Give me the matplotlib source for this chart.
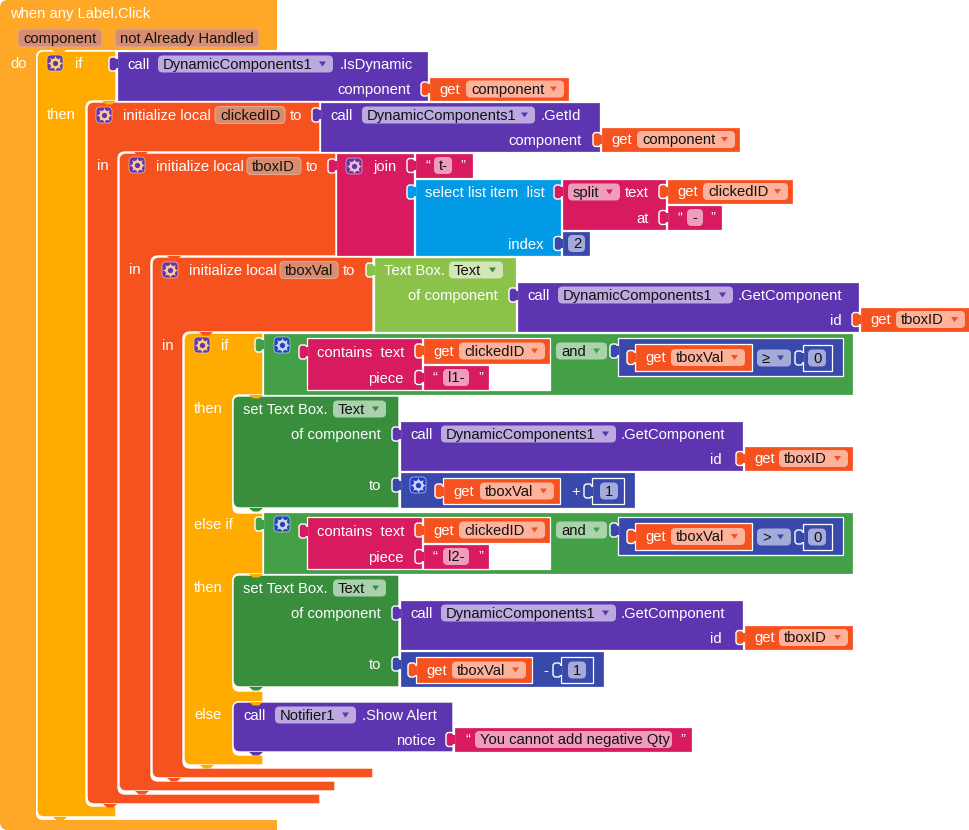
import matplotlib
matplotlib.use("Agg")
import matplotlib.pyplot as plt
from matplotlib.patches import FancyBboxPatch, PathPatch, Rectangle, Polygon
from matplotlib.path import Path
import numpy as np

plt.rcParams['font.family'] = ['Liberation Sans', 'DejaVu Sans']

# ---- block texts ----
EVENT_TITLE = "when any Label.Click"
EVENT_ARGS = ["component", "not Already Handled"]
COMPONENT_DYNAMIC = "DynamicComponents1"
COMPONENT_NOTIFIER = "Notifier1"
VAR_CLICKED = "clickedID"
VAR_TBOXID = "tboxID"
VAR_TBOXVAL = "tboxVal"
VAR_COMPONENT = "component"
ALERT_TEXT = "You cannot add negative Qty"
STRINGS = ["t-", "-", "l1-", "l2-"]
NUMBERS = ["2", "0", "1"]

# ---- palette ----
EVENT = "#FFA726"; CTRL = "#FFAB00"; ORANGE = "#F6521F"; PURPLE = "#5E35B1"
PINK = "#D81B60"; BLUE = "#039BE5"; MATH = "#3949AB"; LIME = "#8BC34A"
GREEN = "#43A047"; DGREEN = "#388E3C"
PILL = {ORANGE: "#FCB29B", PURPLE: "#BBA9DF", PINK: "#EF9DBA", MATH: "#A5ABD9",
        LIME: "#D2E6B8", GREEN: "#AAD3AC", DGREEN: "#ABD0AD", EVENT: "#D98D70"}

fig = plt.figure(figsize=(9.7, 8.3), dpi=100)
ax = fig.add_axes([0, 0, 1, 1])
ax.set_xlim(0, 970); ax.set_ylim(830, 0); ax.axis("off")
FS = 10.6


def rpoly(pts, color, radii=None, r=6, z=1, lw=1.0):
    n = len(pts)
    verts, codes = [], []
    for i in range(n):
        p = np.array(pts[i], float)
        a = np.array(pts[i - 1], float); b = np.array(pts[(i + 1) % n], float)
        rad = radii[i] if radii else r
        if rad <= 0:
            verts.append(p); codes.append(Path.LINETO if i else Path.MOVETO)
            continue
        u = (a - p) / np.linalg.norm(a - p); v = (b - p) / np.linalg.norm(b - p)
        verts.append(p + u * rad); codes.append(Path.LINETO if i else Path.MOVETO)
        verts += [p, p + v * rad]; codes += [Path.CURVE3, Path.CURVE3]
    verts.append(verts[0]); codes.append(Path.CLOSEPOLY)
    ax.add_patch(PathPatch(Path(verts, codes), fc=color, ec="white", lw=lw, zorder=z))


def rect(x0, y0, x1, y1, color, z=2, ec="white", lw=0.9):
    ax.add_patch(Rectangle((x0, y0), x1 - x0, y1 - y0, fc=color, ec=ec, lw=lw, zorder=z))


def stmt(x0, y0, x1, y1, color, z=3):
    """statement block with rounded left corners"""
    rpoly([(x0, y0), (x1, y0), (x1, y1), (x0, y1)], color, radii=[6, 0, 0, 7], z=z)


def notch(x, y, color, z=6):
    ax.add_patch(Polygon([(x + 2, y), (x + 6, y + 3.5), (x + 12, y + 3.5), (x + 16, y)],
                         closed=True, fc=color, ec="none", zorder=z))


def label(x, y, s, ha="left", color="white", z=10, size=FS):
    ax.text(x, y + 0.8, s, ha=ha, va="center", color=color, fontsize=size, zorder=z)


def pill(x0, x1, yc, bg, s, arrow=None, h=17, tc="#111111", border=None, z=8):
    ax.add_patch(FancyBboxPatch((x0 + 3, yc - h / 2 + 3), x1 - x0 - 6, h - 6,
                                boxstyle="round,pad=3,rounding_size=4.5",
                                fc=PILL.get(bg, bg), ec=border or "none", lw=0.8, zorder=z))
    if arrow:
        ax.add_patch(Polygon([(x1 - 14, yc - 2.5), (x1 - 7, yc - 2.5), (x1 - 10.5, yc + 2.5)],
                             closed=True, fc=arrow, ec="none", zorder=z + 1))
    label(x0 + 5, yc, s, color=tc, z=z + 2)


def tab(x, yc, color, z=7):
    """puzzle connector on the left of a value block ending at x"""
    ax.add_patch(FancyBboxPatch((x - 6.5, yc - 5.5), 5, 11,
                                boxstyle="round,pad=1.5,rounding_size=3",
                                fc=color, ec="white", lw=1.0, zorder=z))
    rect(x - 3, yc - 4.5, x + 1, yc + 4.5, color, z=z, ec="none", lw=0)


def gear(x, y, bg=PURPLE, fg="#F4D9A8"):
    ax.add_patch(FancyBboxPatch((x - 6, y - 6), 12, 12, boxstyle="round,pad=2,rounding_size=4",
                                fc=bg, ec=fg, lw=0.5, alpha=0.95, zorder=8))
    ax.plot([x], [y], marker=(8, 1, 0), ms=11, color=fg, mec="none", zorder=9)
    ax.plot([x], [y], marker="o", ms=7.5, color=fg, mec="none", zorder=9)
    ax.plot([x], [y], marker="o", ms=3.8, color=bg, mec="none", zorder=10)


def getter(x0, x1, y0, y1, name, px0, px1):
    rect(x0, y0, x1, y1, ORANGE, z=5)
    yc = (y0 + y1) / 2
    tab(x0, yc, ORANGE)
    label(x0 + 10, yc, "get")
    pill(px0, px1, yc, ORANGE, name, arrow=ORANGE)


def string(x0, x1, y0, y1, s, px0, px1, qx0, qx1):
    rect(x0, y0, x1, y1, PINK, z=5)
    yc = (y0 + y1) / 2
    tab(x0, yc, PINK)
    label(qx0, yc - 1, "\u201c", size=FS)
    pill(px0, px1, yc, PINK, s)
    label(qx1, yc - 1, "\u201d", size=FS)


def number(x0, x1, y0, y1, s, bare=False):
    rect(x0, y0, x1, y1, MATH, z=5)
    yc = (y0 + y1) / 2
    tab(x0, yc, MATH)
    pill(x0 + 6 if not bare else x0 + 5, x1 - 5, yc, MATH, s)


def call(x0, x1, y0, y1, comp, pill0, pill1, method, mx, arg, argx, argtab=True):
    rect(x0, y0, x1, y1, PURPLE, z=4)
    yt = y0 + 13
    tab(x0, yt, PURPLE)
    label(x0 + 10, yt, "call")
    pill(pill0, pill1, yt, PURPLE, comp, arrow=PURPLE)
    label(mx, yt, method)
    label(argx, y1 - 12, arg, ha="right")


# ---- C-shaped containers (outer first) ----
rpoly([(0, 0), (277, 0), (277, 50), (36, 50), (36, 820), (277, 820), (277, 830), (0, 830)], EVENT,
      radii=[8, 0, 0, 7, 7, 0, 0, 8], z=1, lw=0)
rpoly([(37, 51), (116, 51), (116, 101), (86, 101), (86, 806), (116, 806), (116, 817), (37, 817)], CTRL,
      radii=[7, 0, 0, 7, 7, 0, 0, 7], z=1.1)
rpoly([(87, 102), (320, 102), (320, 152), (118, 152), (118, 794), (320, 794), (320, 804), (87, 804)], ORANGE,
      radii=[7, 0, 0, 7, 7, 0, 0, 7], z=1.2)
rpoly([(119, 153), (336, 153), (336, 256), (151, 256), (151, 781), (335, 781), (335, 791), (119, 791)], ORANGE,
      radii=[7, 0, 0, 7, 7, 0, 0, 7], z=1.3)
rpoly([(152, 257), (373, 257), (373, 332), (183, 332), (183, 768), (373, 768), (373, 778), (152, 778)], ORANGE,
      radii=[7, 0, 0, 7, 7, 0, 0, 7], z=1.4)
rpoly([(184, 333), (263, 333), (263, 395), (233, 395), (233, 513), (263, 513), (263, 574), (233, 574),
       (233, 691), (263, 691), (263, 702), (233, 702), (233, 755), (263, 755), (263, 765), (184, 765)], CTRL,
      radii=[7, 0, 0, 6, 6, 0, 0, 6, 6, 0, 0, 6, 6, 0, 0, 7], z=1.5)

# bumps and notches of the containers
for x, y, c in [(50, 50, EVENT), (100, 101, CTRL), (132, 152, ORANGE), (165, 256, ORANGE),
                (197, 332, ORANGE), (247, 395, CTRL), (247, 574, CTRL), (247, 702, CTRL)]:
    notch(x, y, c)
for x, y, c in [(51, 817, CTRL), (101, 804, ORANGE), (133, 791, ORANGE), (165, 778, ORANGE),
                (198, 765, CTRL), (247, 508, DGREEN), (247, 687, DGREEN), (247, 752, PURPLE)]:
    notch(x, y, c)

# ---- event header ----
label(10, 13, EVENT_TITLE)
pill(18, 102, 38, EVENT, EVENT_ARGS[0], border="#E6A68C", h=18)
pill(115, 259, 38, EVENT, EVENT_ARGS[1], border="#E6A68C", h=18)
label(10, 63, "do")

# ---- outer if ----
gear(55, 63, fg="#F8D27A")
label(75, 63, "if")
call(117, 428, 51, 101, COMPONENT_DYNAMIC, 158, 333, ".IsDynamic", 340, "component", 411)
getter(429, 569, 77, 101, VAR_COMPONENT, 466, 564)
label(47, 114, "then")

# ---- initialize clickedID ----
gear(104, 115, fg="#F8C9A0")
label(123, 115, "initialize local")
pill(215, 285, 115, "#D98D70", VAR_CLICKED, border="#E6A68C")
label(290, 115, "to")
call(320, 600, 102, 152, COMPONENT_DYNAMIC, 362, 535, ".GetId", 541, "component", 582)
getter(601, 740, 127, 152, VAR_COMPONENT, 637, 735)
label(97, 165, "in")

# ---- initialize tboxID ----
gear(137, 165, fg="#F8C9A0")
label(156, 166, "initialize local")
pill(247, 301, 166, "#D98D70", VAR_TBOXID, border="#E6A68C")
label(306, 166, "to")
rect(336, 153, 414, 256, PINK, z=4)
tab(336, 166, PINK)
gear(354, 166, fg="#F3BBD0")
label(373, 166, "join")
string(415, 473, 153, 178, STRINGS[0], 434, 452, 426, 460)
rect(415, 179, 561, 256, BLUE, z=4)
tab(415, 192, BLUE)
label(425, 192, "select list item  list")
rect(562, 179, 666, 230, PINK, z=4)
tab(562, 192, PINK)
pill(568, 620, 192, PINK, "split", arrow=PINK)
label(625, 192, "text")
getter(667, 793, 179, 204, VAR_CLICKED, 703, 788)
label(649, 218, "at", ha="right")
string(667, 722, 205, 230, STRINGS[1], 687, 703, 678, 710)
label(544, 244, "index", ha="right")
number(562, 590, 231, 256, NUMBERS[0])
label(129, 269, "in")

# ---- initialize tboxVal ----
gear(170, 270, fg="#F8C9A0")
label(189, 270, "initialize local")
pill(280, 338, 270, "#D98D70", VAR_TBOXVAL, border="#E6A68C")
label(343, 270, "to")
rect(374, 257, 516, 332, LIME, z=4)
tab(374, 270, LIME)
label(384, 270, "Text Box.")
pill(449, 503, 270, LIME, "Text", arrow=DGREEN)
label(498, 295, "of component", ha="right")
call(517, 859, 282, 332, COMPONENT_DYNAMIC, 558, 733, ".GetComponent", 738, "id", 842)
getter(860, 970, 307, 332, VAR_TBOXID, 896, 965)
label(162, 345, "in")

# ---- inner if / else if ----
gear(202, 345, fg="#F8D27A")
label(221, 345, "if")
label(194, 524, "else if")


def condition(dy, piece, op):
    rect(263, 333 + dy, 853, 395 + dy, GREEN, z=3, lw=0.9)
    tab(263, 345 + dy, GREEN)
    gear(282, 345 + dy, bg="#2145B8", fg="#C9D4F5")
    rect(307, 338 + dy, 422, 390 + dy, PINK, z=4)
    tab(307, 352 + dy, PINK)
    label(317, 352 + dy, "contains  text")
    label(404, 378 + dy, "piece", ha="right")
    rect(423, 364 + dy, 550, 390 + dy, "white", z=4)
    getter(423, 550, 338 + dy, 364 + dy, VAR_CLICKED, 459, 545)
    string(423, 489, 365 + dy, 390 + dy, piece, 443, 469, 433, 478)
    pill(556, 607, 351 + dy, GREEN, "and", arrow=GREEN)
    rect(618, 338 + dy, 843, 376 + dy, MATH, z=4)
    tab(618, 351 + dy, MATH)
    getter(635, 752, 344 + dy, 371 + dy, VAR_TBOXVAL, 671, 745)
    pill(757, 791, 358 + dy, MATH, op, arrow=MATH)
    tab(803, 358 + dy, MATH)
    rect(803, 345 + dy, 832, 371 + dy, MATH, z=5)
    pill(808, 826, 358 + dy, MATH, NUMBERS[1])


condition(0, STRINGS[2], "\u2265")
condition(179, STRINGS[3], ">")


def setter(dy, right):
    label(194, 408 + dy, "then")
    stmt(233, 396 + dy, 399, 508 + dy, DGREEN)
    label(243, 409 + dy, "set Text Box.")
    pill(333, 386, 409 + dy, DGREEN, "Text", arrow=DGREEN)
    label(381, 434 + dy, "of component", ha="right")
    call(400, 743, 421 + dy, 471 + dy, COMPONENT_DYNAMIC, 441, 616, ".GetComponent", 621, "id", 722)
    getter(744, 853, 446 + dy, 471 + dy, VAR_TBOXID, 779, 848)
    label(381, 485 + dy, "to", ha="right")
    rect(400, 472 + dy, right, 508 + dy, MATH, z=4)
    tab(400, 485 + dy, MATH)


# set ... + 1
setter(0, 635)
gear(418, 485, bg="#2636D0", fg="#C9D4F5")
getter(443, 560, 478, 504, VAR_TBOXVAL, 480, 554)
label(571, 491, "+")
rect(592, 478, 624, 504, MATH, z=5)
tab(592, 491, MATH)
pill(600, 618, 491, MATH, NUMBERS[2])

# set ... - 1
setter(179, 604)
getter(416, 532, 657, 683, VAR_TBOXVAL, 452, 526)
label(543, 670, "-")
rect(561, 657, 593, 683, MATH, z=5)
tab(561, 670, MATH)
pill(568, 586, 670, MATH, NUMBERS[2])

# ---- else branch ----
label(194, 714, "else")
stmt(233, 702, 453, 752, PURPLE)
label(243, 715, "call")
pill(275, 356, 715, PURPLE, COMPONENT_NOTIFIER, arrow=PURPLE)
label(362, 715, ".Show Alert")
label(436, 740, "notice", ha="right")
string(454, 692, 727, 752, ALERT_TEXT, 475, 672, 466, 680)

fig.savefig("out.png", dpi=100)
